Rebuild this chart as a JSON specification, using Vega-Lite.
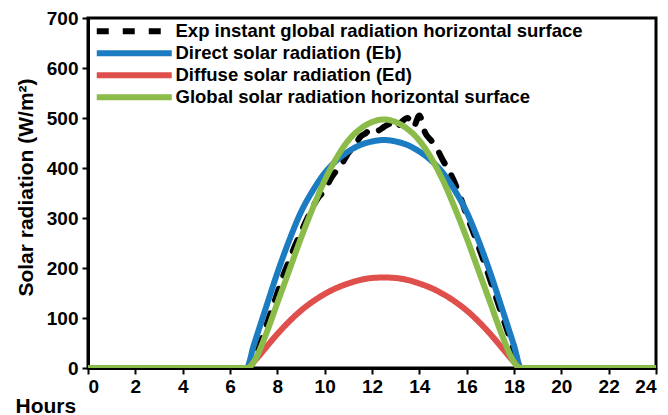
{
  "$schema": "https://vega.github.io/schema/vega-lite/v6.json",
  "width": 568,
  "height": 350,
  "autosize": {"type": "none"},
  "padding": {"left": 88, "top": 18, "right": 12, "bottom": 47},
  "background": "white",
  "config": {
    "font": "Liberation Sans",
    "view": {"stroke": "black", "strokeWidth": 3},
    "axis": {
      "domainColor": "black", "domainWidth": 3, "tickColor": "black", "tickWidth": 2, "tickSize": 6,
      "grid": false, "labelFont": "Liberation Sans", "labelFontWeight": "bold", "labelFontSize": 19, "labelColor": "black",
      "titleFont": "Liberation Sans", "titleFontWeight": "bold", "titleFontSize": 21, "titleColor": "black"
    },
    "legend": {
      "orient": "none", "legendX": 37, "legendY": 4, "title": null, "padding": 0,
      "symbolType": "M-10,0H10", "symbolSize": 56.25, "symbolStrokeWidth": 6,
      "labelFont": "Liberation Sans", "labelFontWeight": "bold", "labelFontSize": 18.5, "labelColor": "black",
      "labelOffset": 32, "rowPadding": -4, "labelLimit": 600
    }
  },
  "data": {"values": [
    {"series": "Exp instant global radiation horizontal surface", "h": 0, "v": 0},
    {"series": "Exp instant global radiation horizontal surface", "h": 6.8, "v": 0},
    {"series": "Exp instant global radiation horizontal surface", "h": 7.0, "v": 15},
    {"series": "Exp instant global radiation horizontal surface", "h": 7.25, "v": 45},
    {"series": "Exp instant global radiation horizontal surface", "h": 7.5, "v": 80},
    {"series": "Exp instant global radiation horizontal surface", "h": 7.75, "v": 115},
    {"series": "Exp instant global radiation horizontal surface", "h": 8.0, "v": 150},
    {"series": "Exp instant global radiation horizontal surface", "h": 8.25, "v": 185},
    {"series": "Exp instant global radiation horizontal surface", "h": 8.5, "v": 215},
    {"series": "Exp instant global radiation horizontal surface", "h": 8.75, "v": 245},
    {"series": "Exp instant global radiation horizontal surface", "h": 9.0, "v": 272},
    {"series": "Exp instant global radiation horizontal surface", "h": 9.25, "v": 298},
    {"series": "Exp instant global radiation horizontal surface", "h": 9.5, "v": 322},
    {"series": "Exp instant global radiation horizontal surface", "h": 9.75, "v": 342},
    {"series": "Exp instant global radiation horizontal surface", "h": 10.0, "v": 355},
    {"series": "Exp instant global radiation horizontal surface", "h": 10.25, "v": 378},
    {"series": "Exp instant global radiation horizontal surface", "h": 10.5, "v": 395},
    {"series": "Exp instant global radiation horizontal surface", "h": 10.75, "v": 410},
    {"series": "Exp instant global radiation horizontal surface", "h": 11.0, "v": 430},
    {"series": "Exp instant global radiation horizontal surface", "h": 11.25, "v": 442},
    {"series": "Exp instant global radiation horizontal surface", "h": 11.5, "v": 462},
    {"series": "Exp instant global radiation horizontal surface", "h": 11.75, "v": 470},
    {"series": "Exp instant global radiation horizontal surface", "h": 12.0, "v": 480},
    {"series": "Exp instant global radiation horizontal surface", "h": 12.25, "v": 475},
    {"series": "Exp instant global radiation horizontal surface", "h": 12.5, "v": 482},
    {"series": "Exp instant global radiation horizontal surface", "h": 12.75, "v": 488},
    {"series": "Exp instant global radiation horizontal surface", "h": 13.0, "v": 478},
    {"series": "Exp instant global radiation horizontal surface", "h": 13.25, "v": 492},
    {"series": "Exp instant global radiation horizontal surface", "h": 13.5, "v": 500},
    {"series": "Exp instant global radiation horizontal surface", "h": 13.75, "v": 482},
    {"series": "Exp instant global radiation horizontal surface", "h": 14.0, "v": 505},
    {"series": "Exp instant global radiation horizontal surface", "h": 14.25, "v": 470},
    {"series": "Exp instant global radiation horizontal surface", "h": 14.5, "v": 455},
    {"series": "Exp instant global radiation horizontal surface", "h": 14.75, "v": 438},
    {"series": "Exp instant global radiation horizontal surface", "h": 15.0, "v": 415},
    {"series": "Exp instant global radiation horizontal surface", "h": 15.25, "v": 395},
    {"series": "Exp instant global radiation horizontal surface", "h": 15.5, "v": 370},
    {"series": "Exp instant global radiation horizontal surface", "h": 15.75, "v": 340},
    {"series": "Exp instant global radiation horizontal surface", "h": 16.0, "v": 305},
    {"series": "Exp instant global radiation horizontal surface", "h": 16.25, "v": 275},
    {"series": "Exp instant global radiation horizontal surface", "h": 16.5, "v": 243},
    {"series": "Exp instant global radiation horizontal surface", "h": 16.75, "v": 210},
    {"series": "Exp instant global radiation horizontal surface", "h": 17.0, "v": 175},
    {"series": "Exp instant global radiation horizontal surface", "h": 17.25, "v": 140},
    {"series": "Exp instant global radiation horizontal surface", "h": 17.5, "v": 105},
    {"series": "Exp instant global radiation horizontal surface", "h": 17.75, "v": 70},
    {"series": "Exp instant global radiation horizontal surface", "h": 18.0, "v": 35},
    {"series": "Exp instant global radiation horizontal surface", "h": 18.25, "v": 8},
    {"series": "Exp instant global radiation horizontal surface", "h": 18.4, "v": 0},
    {"series": "Exp instant global radiation horizontal surface", "h": 24, "v": 0},

    {"series": "Direct solar radiation (Eb)", "h": 0, "v": 0},
    {"series": "Direct solar radiation (Eb)", "h": 6.7, "v": 0},
    {"series": "Direct solar radiation (Eb)", "h": 7.0, "v": 45},
    {"series": "Direct solar radiation (Eb)", "h": 7.5, "v": 118},
    {"series": "Direct solar radiation (Eb)", "h": 8.0, "v": 190},
    {"series": "Direct solar radiation (Eb)", "h": 8.5, "v": 255},
    {"series": "Direct solar radiation (Eb)", "h": 9.0, "v": 312},
    {"series": "Direct solar radiation (Eb)", "h": 9.5, "v": 355},
    {"series": "Direct solar radiation (Eb)", "h": 10.0, "v": 390},
    {"series": "Direct solar radiation (Eb)", "h": 10.5, "v": 415},
    {"series": "Direct solar radiation (Eb)", "h": 11.0, "v": 433},
    {"series": "Direct solar radiation (Eb)", "h": 11.5, "v": 446},
    {"series": "Direct solar radiation (Eb)", "h": 12.0, "v": 453},
    {"series": "Direct solar radiation (Eb)", "h": 12.5, "v": 456},
    {"series": "Direct solar radiation (Eb)", "h": 13.0, "v": 453},
    {"series": "Direct solar radiation (Eb)", "h": 13.5, "v": 446},
    {"series": "Direct solar radiation (Eb)", "h": 14.0, "v": 433},
    {"series": "Direct solar radiation (Eb)", "h": 14.5, "v": 415},
    {"series": "Direct solar radiation (Eb)", "h": 15.0, "v": 390},
    {"series": "Direct solar radiation (Eb)", "h": 15.5, "v": 355},
    {"series": "Direct solar radiation (Eb)", "h": 16.0, "v": 312},
    {"series": "Direct solar radiation (Eb)", "h": 16.5, "v": 255},
    {"series": "Direct solar radiation (Eb)", "h": 17.0, "v": 190},
    {"series": "Direct solar radiation (Eb)", "h": 17.5, "v": 118},
    {"series": "Direct solar radiation (Eb)", "h": 18.0, "v": 45},
    {"series": "Direct solar radiation (Eb)", "h": 18.3, "v": 0},
    {"series": "Direct solar radiation (Eb)", "h": 24, "v": 0},

    {"series": "Diffuse solar radiation (Ed)", "h": 0, "v": 0},
    {"series": "Diffuse solar radiation (Ed)", "h": 6.75, "v": 0},
    {"series": "Diffuse solar radiation (Ed)", "h": 7.0, "v": 12},
    {"series": "Diffuse solar radiation (Ed)", "h": 7.5, "v": 40},
    {"series": "Diffuse solar radiation (Ed)", "h": 8.0, "v": 68},
    {"series": "Diffuse solar radiation (Ed)", "h": 8.5, "v": 93},
    {"series": "Diffuse solar radiation (Ed)", "h": 9.0, "v": 115},
    {"series": "Diffuse solar radiation (Ed)", "h": 9.5, "v": 133},
    {"series": "Diffuse solar radiation (Ed)", "h": 10.0, "v": 148},
    {"series": "Diffuse solar radiation (Ed)", "h": 10.5, "v": 160},
    {"series": "Diffuse solar radiation (Ed)", "h": 11.0, "v": 169},
    {"series": "Diffuse solar radiation (Ed)", "h": 11.5, "v": 176},
    {"series": "Diffuse solar radiation (Ed)", "h": 12.0, "v": 180},
    {"series": "Diffuse solar radiation (Ed)", "h": 12.5, "v": 181},
    {"series": "Diffuse solar radiation (Ed)", "h": 13.0, "v": 180},
    {"series": "Diffuse solar radiation (Ed)", "h": 13.5, "v": 176},
    {"series": "Diffuse solar radiation (Ed)", "h": 14.0, "v": 169},
    {"series": "Diffuse solar radiation (Ed)", "h": 14.5, "v": 160},
    {"series": "Diffuse solar radiation (Ed)", "h": 15.0, "v": 148},
    {"series": "Diffuse solar radiation (Ed)", "h": 15.5, "v": 133},
    {"series": "Diffuse solar radiation (Ed)", "h": 16.0, "v": 115},
    {"series": "Diffuse solar radiation (Ed)", "h": 16.5, "v": 93},
    {"series": "Diffuse solar radiation (Ed)", "h": 17.0, "v": 68},
    {"series": "Diffuse solar radiation (Ed)", "h": 17.5, "v": 40},
    {"series": "Diffuse solar radiation (Ed)", "h": 18.0, "v": 12},
    {"series": "Diffuse solar radiation (Ed)", "h": 18.25, "v": 0},
    {"series": "Diffuse solar radiation (Ed)", "h": 24, "v": 0},

    {"series": "Global solar radiation horizontal surface", "h": 0, "v": 0},
    {"series": "Global solar radiation horizontal surface", "h": 6.75, "v": 0},
    {"series": "Global solar radiation horizontal surface", "h": 7.0, "v": 12},
    {"series": "Global solar radiation horizontal surface", "h": 7.5, "v": 65},
    {"series": "Global solar radiation horizontal surface", "h": 8.0, "v": 130},
    {"series": "Global solar radiation horizontal surface", "h": 8.5, "v": 195},
    {"series": "Global solar radiation horizontal surface", "h": 9.0, "v": 260},
    {"series": "Global solar radiation horizontal surface", "h": 9.5, "v": 320},
    {"series": "Global solar radiation horizontal surface", "h": 10.0, "v": 375},
    {"series": "Global solar radiation horizontal surface", "h": 10.5, "v": 420},
    {"series": "Global solar radiation horizontal surface", "h": 11.0, "v": 455},
    {"series": "Global solar radiation horizontal surface", "h": 11.5, "v": 478},
    {"series": "Global solar radiation horizontal surface", "h": 12.0, "v": 492},
    {"series": "Global solar radiation horizontal surface", "h": 12.5, "v": 497},
    {"series": "Global solar radiation horizontal surface", "h": 13.0, "v": 492},
    {"series": "Global solar radiation horizontal surface", "h": 13.5, "v": 478},
    {"series": "Global solar radiation horizontal surface", "h": 14.0, "v": 455},
    {"series": "Global solar radiation horizontal surface", "h": 14.5, "v": 420},
    {"series": "Global solar radiation horizontal surface", "h": 15.0, "v": 375},
    {"series": "Global solar radiation horizontal surface", "h": 15.5, "v": 320},
    {"series": "Global solar radiation horizontal surface", "h": 16.0, "v": 260},
    {"series": "Global solar radiation horizontal surface", "h": 16.5, "v": 195},
    {"series": "Global solar radiation horizontal surface", "h": 17.0, "v": 130},
    {"series": "Global solar radiation horizontal surface", "h": 17.5, "v": 65},
    {"series": "Global solar radiation horizontal surface", "h": 18.0, "v": 12},
    {"series": "Global solar radiation horizontal surface", "h": 18.25, "v": 0},
    {"series": "Global solar radiation horizontal surface", "h": 24, "v": 0}
  ]},
  "mark": {"type": "line", "strokeWidth": 6, "strokeCap": "round", "strokeJoin": "round", "interpolate": "monotone", "clip": true},
  "encoding": {
    "x": {"field": "h", "type": "quantitative",
      "scale": {"domain": [0, 24], "nice": false},
      "axis": {"values": [0,2,4,6,8,10,12,14,16,18,20,22,24], "title": "Hours", "labelPadding": 3,
        "titleAnchor": "start", "titleAlign": "left", "titleX": -73, "titleY": 44, "titleBaseline": "alphabetic"}},
    "y": {"field": "v", "type": "quantitative",
      "scale": {"domain": [0, 700], "nice": false},
      "axis": {"values": [0,100,200,300,400,500,600,700], "title": "Solar radiation (W/m²)", "labelPadding": 4,
        "titleX": -52, "titleY": 169}},
    "color": {"field": "series", "type": "nominal",
      "sort": ["Exp instant global radiation horizontal surface", "Direct solar radiation (Eb)", "Diffuse solar radiation (Ed)", "Global solar radiation horizontal surface"],
      "scale": {"domain": ["Exp instant global radiation horizontal surface", "Direct solar radiation (Eb)", "Diffuse solar radiation (Ed)", "Global solar radiation horizontal surface"],
        "range": ["#000000", "#1C7CC2", "#DF4F4C", "#8BBC4A"]}},
    "strokeDash": {"field": "series", "type": "nominal",
      "sort": ["Exp instant global radiation horizontal surface", "Direct solar radiation (Eb)", "Diffuse solar radiation (Ed)", "Global solar radiation horizontal surface"],
      "scale": {"domain": ["Exp instant global radiation horizontal surface", "Direct solar radiation (Eb)", "Diffuse solar radiation (Ed)", "Global solar radiation horizontal surface"],
        "range": [[12, 14], [1, 0], [1, 0], [1, 0]]}}
  }
}
